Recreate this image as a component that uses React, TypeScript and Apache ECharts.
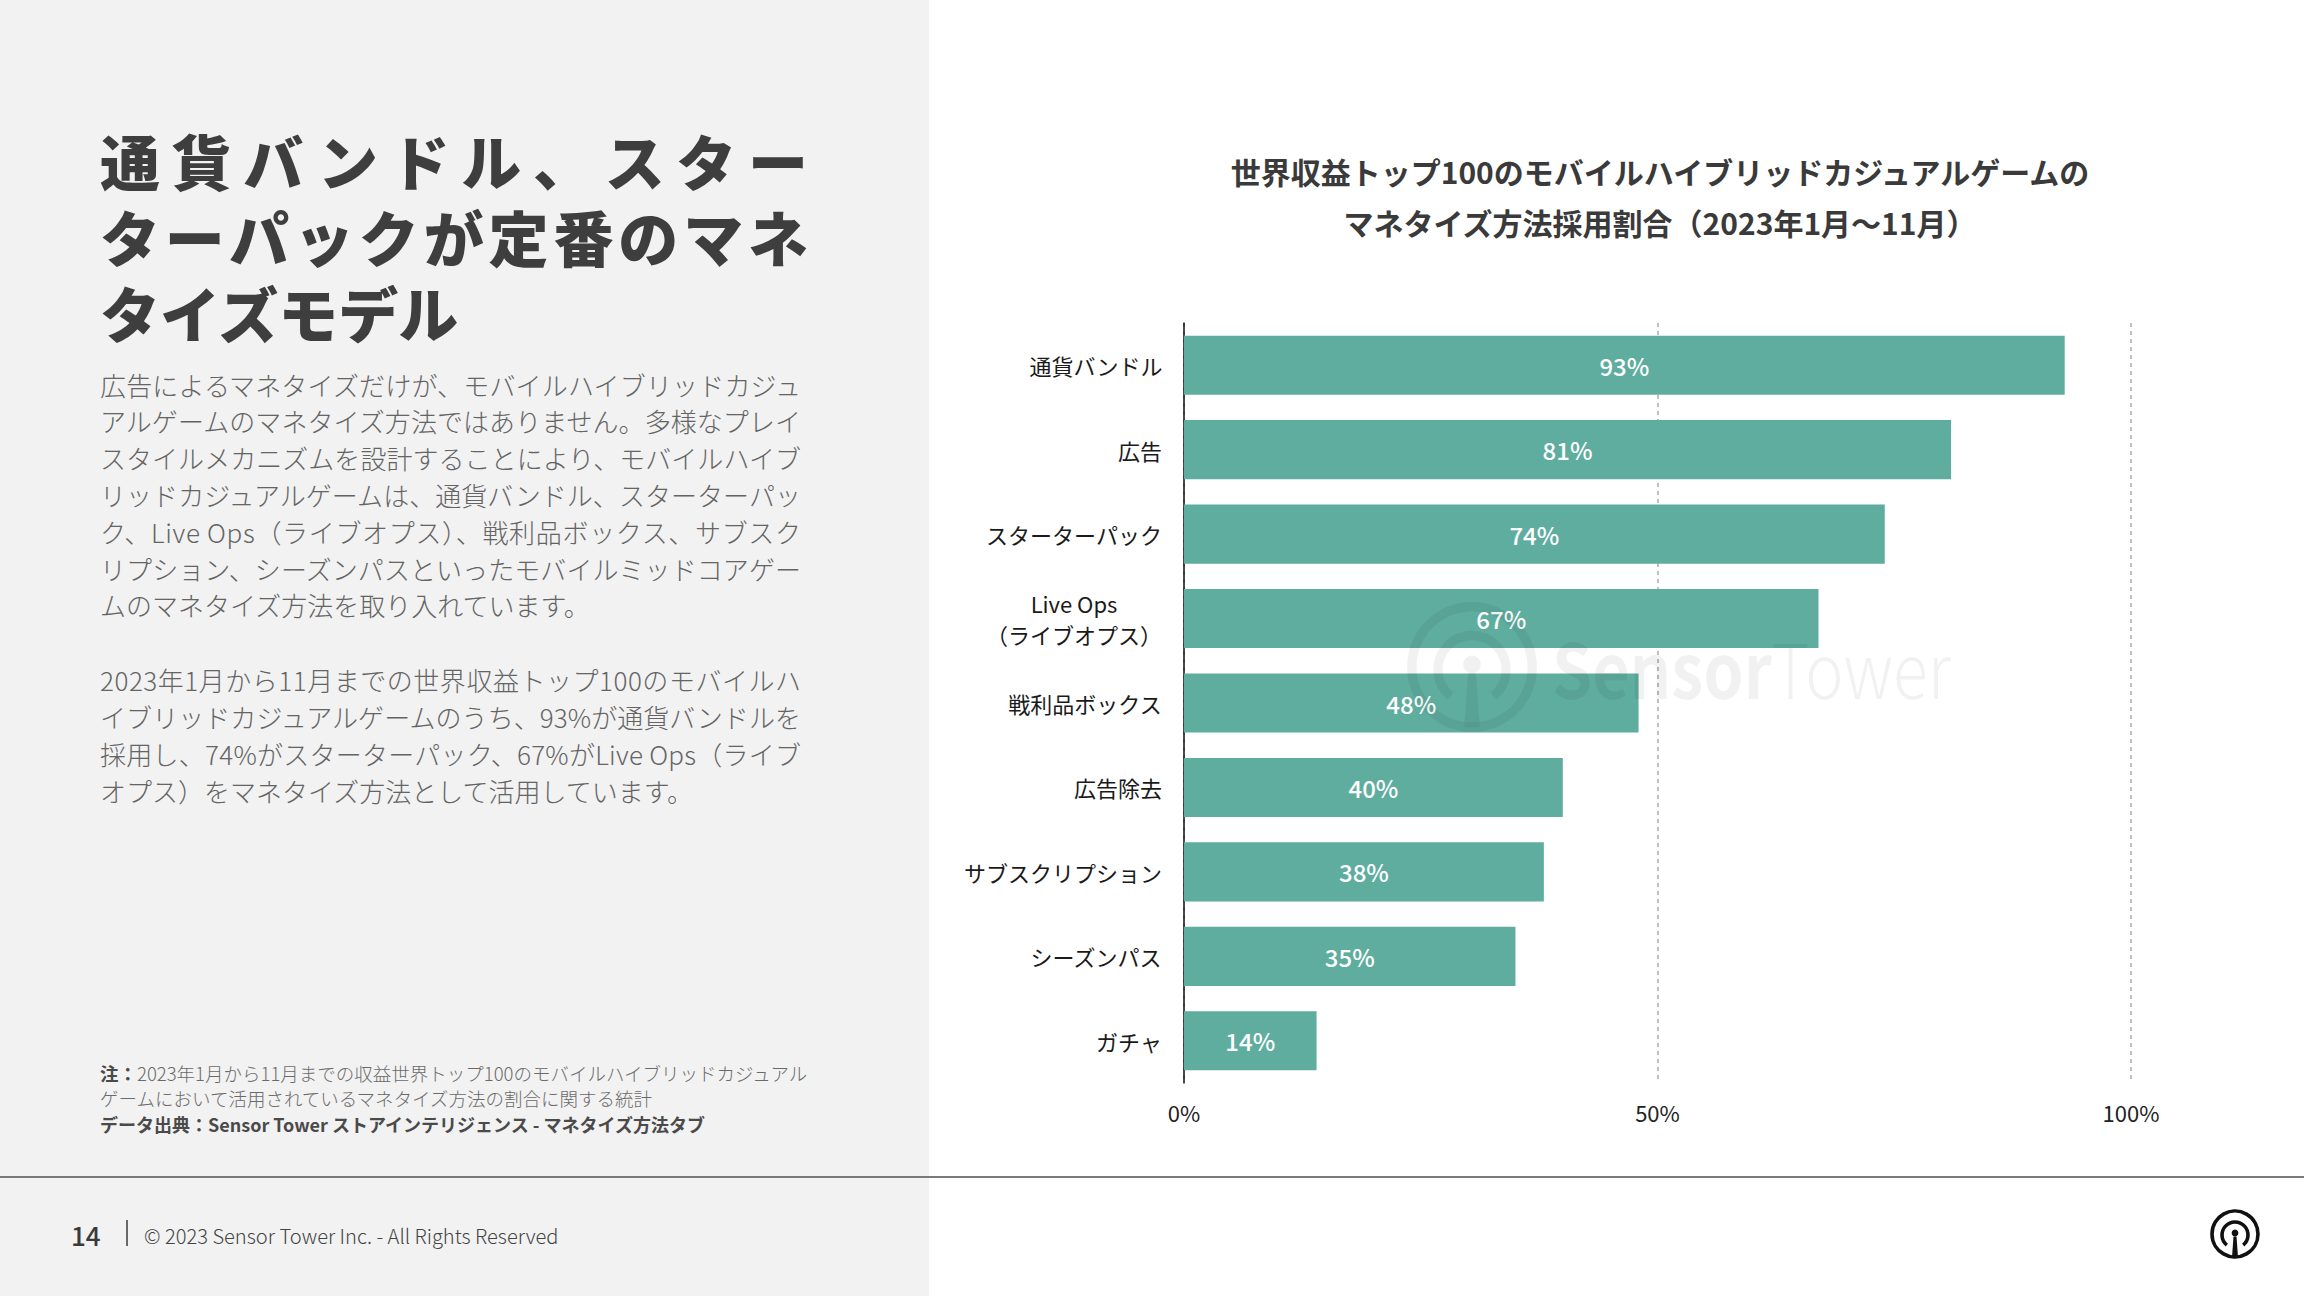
import React, { useEffect, useRef } from 'react';
import * as echarts from 'echarts';

const categories = [
  '通貨バンドル',
  '広告',
  'スターターパック',
  'Live Ops\n（ライブオプス）',
  '戦利品ボックス',
  '広告除去',
  'サブスクリプション',
  'シーズンパス',
  'ガチャ',
];
const values = [93, 81, 74, 67, 48, 40, 38, 35, 14];
const xMin = 0;
const xMax = 100;
const xInterval = 50;

const chartTitleLines = [
  '世界収益トップ100のモバイルハイブリッドカジュアルゲームの',
  'マネタイズ方法採用割合（2023年1月〜11月）',
];
const headingLines = ['通貨バンドル、スター', 'ターパックが定番のマネ', 'タイズモデル'];
const bodyPara1 = [
  '広告によるマネタイズだけが、モバイルハイブリッドカジュ',
  'アルゲームのマネタイズ方法ではありません。多様なプレイ',
  'スタイルメカニズムを設計することにより、モバイルハイブ',
  'リッドカジュアルゲームは、通貨バンドル、スターターパッ',
  'ク、Live Ops（ライブオプス）、戦利品ボックス、サブスク',
  'リプション、シーズンパスといったモバイルミッドコアゲー',
  'ムのマネタイズ方法を取り入れています。',
];
const bodyPara2 = [
  '2023年1月から11月までの世界収益トップ100のモバイルハ',
  'イブリッドカジュアルゲームのうち、93%が通貨バンドルを',
  '採用し、74%がスターターパック、67%がLive Ops（ライブ',
  'オプス）をマネタイズ方法として活用しています。',
];
const noteLabel = '注：';
const noteLine1 = '2023年1月から11月までの収益世界トップ100のモバイルハイブリッドカジュアル';
const noteLine2 = 'ゲームにおいて活用されているマネタイズ方法の割合に関する統計';
const sourceLine = 'データ出典：Sensor Tower ストアインテリジェンス - マネタイズ方法タブ';
const pageNumber = '14';
const copyright = '© 2023 Sensor Tower Inc. - All Rights Reserved';

const FONT = '"Noto Sans CJK JP", "Noto Sans", sans-serif';
const BAR_COLOR = '#5fad9f';
const WM = 'rgba(0,0,0,0.055)';

const justifyTargets: Record<string, number> = {};
justifyTargets[headingLines[0]] = 708;
justifyTargets[headingLines[1]] = 708;
bodyPara1.slice(0, 6).forEach((l) => (justifyTargets[l] = 701));
bodyPara2.slice(0, 3).forEach((l) => (justifyTargets[l] = 701));

function logoElements(cx: number, cy: number, s: number, color: string, z: number) {
  return [
    {
      type: 'circle', z, silent: true,
      shape: { cx, cy, r: 23 * s },
      style: { fill: 'none', stroke: color, lineWidth: 3.6 * s },
    },
    {
      type: 'arc', z, silent: true,
      shape: { cx, cy: cy + 1 * s, r: 13 * s, startAngle: (129 * Math.PI) / 180, endAngle: ((51 + 360) * Math.PI) / 180, clockwise: true },
      style: { fill: 'none', stroke: color, lineWidth: 3.6 * s },
    },
    {
      type: 'circle', z, silent: true,
      shape: { cx, cy: cy - 1 * s, r: 3.4 * s },
      style: { fill: color },
    },
    {
      type: 'polygon', z, silent: true,
      shape: { points: [[cx - 1.5 * s, cy + 2.4 * s], [cx + 1.5 * s, cy + 2.4 * s], [cx + 3 * s, cy + 23 * s], [cx - 3 * s, cy + 23 * s]] },
      style: { fill: color },
    },
  ];
}

function txt(x: number, y: number, text: string, o: any = {}) {
  const fs = o.fontSize ?? 26;
  return {
    type: 'text', x, y, silent: true, z: o.z ?? 5,
    scaleX: o.scaleX ?? 1,
    scaleY: o.scaleY ?? 1,
    style: {
      text,
      fontFamily: FONT,
      fontSize: fs,
      lineHeight: o.lineHeight ?? Math.round(fs * 1.05),
      fontWeight: o.fontWeight ?? 'normal',
      fill: o.fill ?? '#555',
      align: o.align ?? 'left',
      verticalAlign: 'middle',
      rich: o.rich,
    },
  };
}

export default function App() {
  const ref = useRef<HTMLDivElement>(null);
  useEffect(() => {
    const el = ref.current!;
    const chart = echarts.init(el, null, { renderer: 'svg' });

    const graphics: any[] = [];
    graphics.push({ type: 'rect', z: -10, silent: true, shape: { x: 0, y: 0, width: 929, height: 1296 }, style: { fill: '#f2f2f2' } });
    graphics.push({ type: 'line', z: 1, silent: true, shape: { x1: 0, y1: 1177, x2: 2304, y2: 1177 }, style: { stroke: '#7a7a7a', lineWidth: 2 } });

    headingLines.forEach((l, i) => graphics.push(txt(100, 159 + i * 76, l, { fontSize: 60, fontWeight: 900, fill: '#3e3e3e', lineHeight: 60 })));
    bodyPara1.forEach((l, i) => graphics.push(txt(100, 384 + i * 36.8, l, { fontSize: 26, fontWeight: 300, fill: '#646464', lineHeight: 28 })));
    bodyPara2.forEach((l, i) => graphics.push(txt(100, 679 + i * 37.2, l, { fontSize: 26, fontWeight: 300, fill: '#646464', lineHeight: 28 })));

    graphics.push(txt(100, 1073, `{b|${noteLabel}}{r|${noteLine1}}`, {
      fontSize: 18.5,
      rich: {
        b: { fontFamily: FONT, fontSize: 18.5, fontWeight: 'bold', fill: '#4a4a4a' },
        r: { fontFamily: FONT, fontSize: 18.5, fontWeight: 300, fill: '#6a6a6a' },
      },
    }));
    graphics.push(txt(100, 1098, noteLine2, { fontSize: 18.5, fontWeight: 300, fill: '#6a6a6a' }));
    graphics.push(txt(100, 1124, sourceLine, { fontSize: 18, fontWeight: 'bold', fill: '#4a4a4a' }));

    graphics.push(txt(71, 1234, pageNumber, { fontSize: 26, fontWeight: 500, fill: '#3a3a3a' }));
    graphics.push({ type: 'line', z: 5, silent: true, shape: { x1: 127, y1: 1220, x2: 127, y2: 1246 }, style: { stroke: '#3a3a3a', lineWidth: 1.5 } });
    graphics.push(txt(144, 1235, copyright, { fontSize: 20.1, fontWeight: 300, fill: '#444' }));
    logoElements(2235, 1234, 1, '#111', 5).forEach((e) => graphics.push(e));

    chartTitleLines.forEach((l, i) => graphics.push(txt(1660, 171 + i * 51, l, { fontSize: 30, fontWeight: 'bold', fill: '#3a3a3a', align: 'center' })));

    // watermark
    logoElements(1472, 667, 2.62, WM, 50).forEach((e) => graphics.push(e));
    graphics.push(txt(1552, 666, '{b|Sensor}{l|Tower}', {
      z: 50,
      fontSize: 76,
      scaleX: 0.85,
      rich: {
        b: { fontFamily: FONT, fontSize: 76, fontWeight: 'bold', fill: WM },
        l: { fontFamily: FONT, fontSize: 76, fontWeight: 300, fill: WM },
      },
    }));

    const option: any = {
      animation: false,
      backgroundColor: '#ffffff',
      grid: { left: 1184, right: 173, top: 323, bottom: 213, containLabel: false },
      xAxis: {
        type: 'value',
        min: xMin,
        max: xMax,
        interval: xInterval,
        axisLine: { show: false },
        axisTick: { show: false },
        axisLabel: { formatter: '{value}%', fontFamily: FONT, fontSize: 22, color: '#222', margin: 18 },
        splitLine: { show: true, lineStyle: { color: '#aaaaaa', width: 1.5, type: [4, 4] } },
      },
      yAxis: {
        type: 'category',
        inverse: true,
        data: categories,
        axisLine: { show: true, lineStyle: { color: '#111', width: 1.5 } },
        axisTick: { show: false },
        axisLabel: {
          margin: 22,
          fontFamily: FONT,
          fontSize: 22,
          color: '#1a1a1a',
          formatter: (v: string) => v.split('\n').map((s) => `{c|${s}}`).join('\n'),
          rich: { c: { fontFamily: FONT, fontSize: 22, color: '#1a1a1a', align: 'center', lineHeight: 31 } },
        },
      },
      series: [
        {
          type: 'bar',
          data: values,
          barWidth: '70%',
          itemStyle: { color: BAR_COLOR },
          label: {
            show: true,
            position: 'inside',
            formatter: '{c}%',
            color: '#ffffff',
            fontFamily: FONT,
            fontSize: 24,
            fontWeight: 500,
          },
        },
      ],
      graphic: { elements: graphics },
    };

    const justify = () => {
      const svg = el.querySelector('svg');
      if (!svg) return;
      svg.querySelectorAll('text').forEach((t: any) => {
        const s = t.textContent || '';
        const target = justifyTargets[s];
        if (!target) return;
        t.style.letterSpacing = '0px';
        const len = t.getComputedTextLength();
        const n = Array.from(s).length;
        const ls = (target - len) / (n - 1);
        if (ls > 0 && ls < 40) t.style.letterSpacing = ls.toFixed(2) + 'px';
      });
    };
    chart.on('finished', justify);
    chart.setOption(option);
    justify();
    const t1 = setTimeout(justify, 60);
    const t2 = setTimeout(justify, 400);

    return () => {
      clearTimeout(t1);
      clearTimeout(t2);
      chart.dispose();
    };
  }, []);

  return <div ref={ref} style={{ position: 'fixed', left: 0, top: 0, width: 2304, height: 1296 }} />;
}
